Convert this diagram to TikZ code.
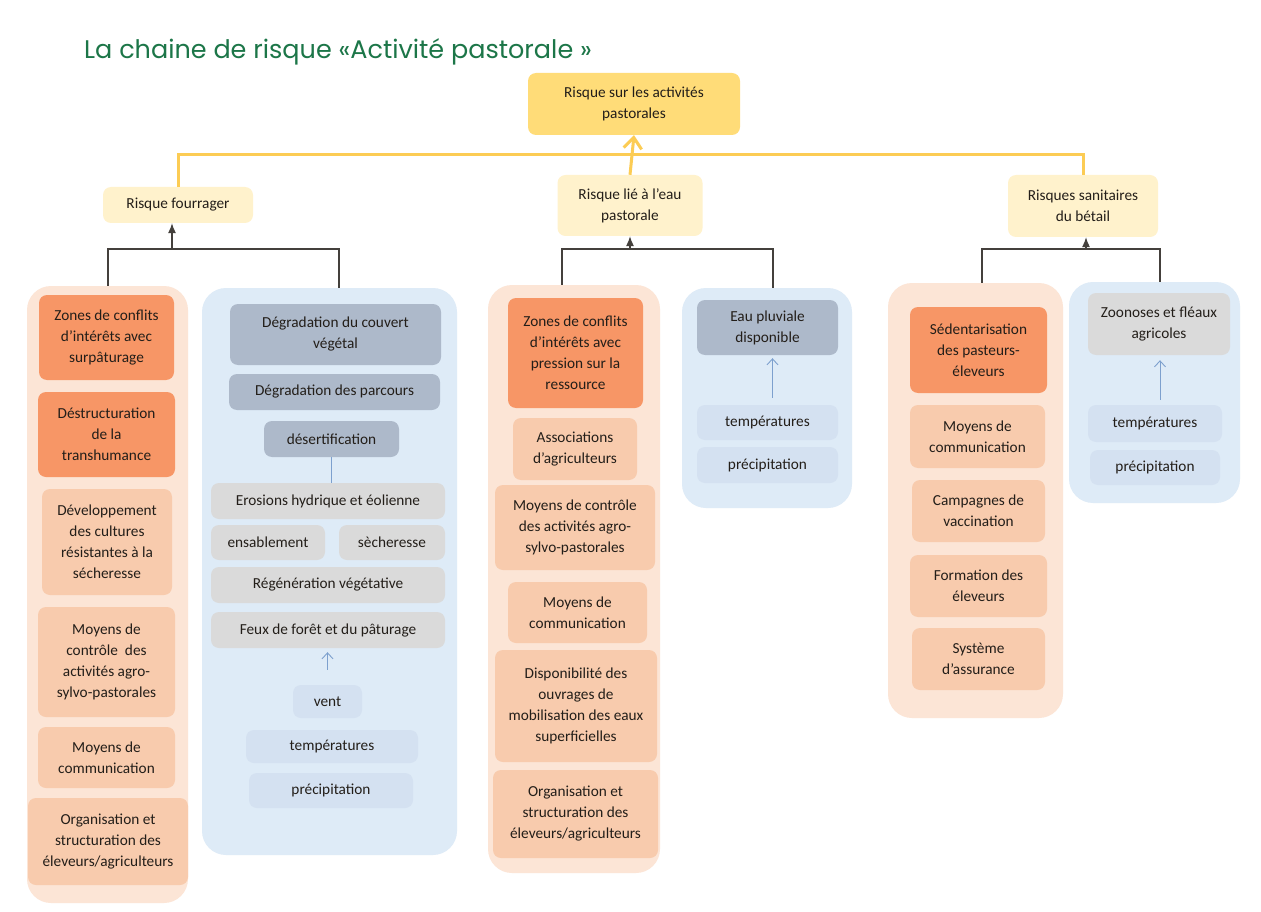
\documentclass[tikz,border=0pt]{standalone}
\usepackage{fontspec}
\setmainfont{Carlito}
\newfontfamily\titlefont{Poppins}
\usetikzlibrary{arrows.meta}

\definecolor{ink}{RGB}{35,30,25}
\definecolor{titlegr}{RGB}{28,118,72}
\definecolor{goalyl}{RGB}{255,220,120}
\definecolor{riskyl}{RGB}{255,242,204}
\definecolor{lineyl}{RGB}{252,204,84}
\definecolor{peachbg}{RGB}{252,229,214}
\definecolor{skybg}{RGB}{222,235,247}
\definecolor{keyor}{RGB}{247,150,102}
\definecolor{itemor}{RGB}{248,203,173}
\definecolor{slategr}{RGB}{173,185,202}
\definecolor{lightgr}{RGB}{218,218,218}
\definecolor{climbl}{RGB}{212,225,241}
\definecolor{arrowbl}{RGB}{125,160,206}

\begin{document}
\begin{tikzpicture}[x=1pt, y=-1pt, font=\fontsize{15.3}{21}\selectfont,
    wh/.style 2 args={minimum width=#1pt, minimum height=#2pt},
    colbox/.style={rounded corners=24pt, inner sep=0pt},
    peach/.style={colbox, fill=peachbg},
    sky/.style={colbox, fill=skybg},
    box/.style={rounded corners=8pt, align=center, inner sep=2pt, text=ink},
    goal/.style={box, fill=goalyl},
    risk/.style={box, fill=riskyl},
    key/.style={box, fill=keyor},
    item/.style={box, fill=itemor},
    slate/.style={box, fill=slategr},
    grey/.style={box, fill=lightgr},
    clim/.style={box, fill=climbl},
    yline/.style={draw=lineyl, line width=3pt},
    tree/.style={draw=ink!85, line width=1.1pt},
    bline/.style={draw=arrowbl, line width=0.9pt}]
  \useasboundingbox[fill=white] (0,0) rectangle (1261,912);

  % title
  \node[anchor=base west, inner sep=0pt, text=titlegr, font=\titlefont\fontsize{25.5}{30}\selectfont] (title) at (84,59) {La chaine de risque «Activité pastorale »};

  % top of the chain
  \node[goal, wh={212}{62}] (top) at (634,104) {Risque sur les activités\\pastorales};
  \node[risk, wh={150}{36}] (rf) at (178,205) {Risque fourrager};
  \node[risk, wh={145}{61}] (re) at (630,205.5) {Risque lié à l’eau\\pastorale};
  \node[risk, wh={150}{62}] (rs) at (1083,206) {Risques sanitaires\\du bétail};
  \coordinate (ybar) at (0,155);
  \draw[yline] (rf.north) |- (rs.north |- ybar) -- (rs.north);
  \draw[yline, -{Straight Barb[length=11pt,width=18pt]}] (re.north) -- (top.south);

  % columns
  \node[peach, wh={161}{617}] (c1) at (107.5,594.5) {};
  \node[sky,   wh={255}{567}] (c2) at (329.5,571.5) {};
  \node[peach, wh={172}{588}] (c3) at (574,579) {};
  \node[sky,   wh={170}{220}] (c4) at (767,398) {};
  \node[peach, wh={175}{435}] (c5) at (975.5,500.5) {};
  \node[sky,   wh={171}{221}] (c6) at (1154.5,392.5) {};

  % brackets
  \coordinate (fb) at (172,249);
  \coordinate (eb) at (630,249);
  \coordinate (sb) at (1086,249);
  \draw[tree] ([xshift=0.5pt]c1.north) |- (fb) -| ([xshift=9.5pt]c2.north);
  \draw[tree, -{Latex[length=10pt,width=8pt]}] (fb) -- (fb |- rf.south);
  \draw[tree] ([xshift=-12pt]c3.north) |- (eb) -| ([xshift=6pt]c4.north);
  \draw[tree, -{Latex[length=10pt,width=8pt]}] (eb) -- (eb |- re.south);
  \draw[tree] ([xshift=6.5pt]c5.north) |- (sb) -| ([xshift=5.5pt]c6.north);
  \draw[tree, -{Latex[length=10pt,width=8pt]}] (sb) -- (sb |- rs.south);

  % risque fourrager
  \node[key,  wh={135}{85}]  (l1) at (106.5,337.5) {Zones de conflits\\d’intérêts avec\\surpâturage};
  \node[key,  wh={137}{85}]  (l2) at (106.5,434.5) {Déstructuration\\de la\\transhumance};
  \node[item, wh={130}{106}] (l3) at (107,542) {Développement\\des cultures\\résistantes à la\\sécheresse};
  \node[item, wh={137}{110}] (l4) at (106.5,662) {Moyens de\\contrôle~ des\\activités agro-\\sylvo-pastorales};
  \node[item, wh={137}{61}]  (l5) at (106.5,757.5) {Moyens de\\communication};
  \node[item, wh={160}{87}]  (l6) at (108,841.5) {Organisation et\\structuration des\\éleveurs/agriculteurs};

  \node[slate, wh={211}{61}] (b1) at (335.5,334.5) {Dégradation du couvert\\végétal};
  \node[slate, wh={211}{36}] (b2) at (334.5,392) {Dégradation des parcours};
  \node[slate, wh={135}{36}] (b3) at (331.5,439) {désertification};
  \node[grey,  wh={234}{36}] (b4) at (328,501) {Erosions hydrique et éolienne};
  \node[grey,  wh={114}{35}] (b5) at (268,542.5) {ensablement};
  \node[grey,  wh={106}{35}] (b6) at (392,542.5) {sècheresse};
  \node[grey,  wh={234}{36}] (b7) at (328,585) {Régénération végétative};
  \node[grey,  wh={234}{36}] (b8) at (328,630) {Feux de forêt et du pâturage};
  \node[clim,  wh={69}{33}]  (b9) at (327.5,701.5) {vent};
  \node[clim,  wh={172}{33}] (b10) at (332,746.5) {températures};
  \node[clim,  wh={164}{35}] (b11) at (331,790.5) {précipitation};
  \draw[bline] (b4.north -| b3.south) -- (b3.south);
  \draw[bline, -{Straight Barb[length=6pt,width=11pt]}, shorten <=15pt, shorten >=4pt] (b9.north) -- (b9.north |- b8.south);

  % risque eau
  \node[key,  wh={135}{110}] (m1) at (575.5,353) {Zones de conflits\\d’intérêts avec\\pression sur la\\ressource};
  \node[item, wh={124}{62}]  (m2) at (575,449) {Associations\\d’agriculteurs};
  \node[item, wh={160}{85}]  (m3) at (575,527.5) {Moyens de contrôle\\des activités agro-\\sylvo-pastorales};
  \node[item, wh={139}{61}]  (m4) at (577.5,612.5) {Moyens de\\communication};
  \node[item, wh={162}{112}] (m5) at (576,706) {Disponibilité des\\ouvrages de\\mobilisation des eaux\\superficielles};
  \node[item, wh={165}{88}]  (m6) at (575.5,814) {Organisation et\\structuration des\\éleveurs/agriculteurs};

  \node[slate, wh={141}{55}] (e1) at (767.5,327.5) {Eau pluviale\\disponible};
  \node[clim,  wh={141}{35}] (e2) at (767.5,422.5) {températures};
  \node[clim,  wh={141}{36}] (e3) at (767.5,465) {précipitation};
  \draw[bline, -{Straight Barb[length=6pt,width=11pt]}, shorten <=7pt, shorten >=3pt] ([xshift=5pt]e2.north) -- ([xshift=5pt]e1.south);

  % risques sanitaires
  \node[key,  wh={137}{86}] (s1) at (978.5,350) {Sédentarisation\\des pasteurs-\\éleveurs};
  \node[item, wh={135}{63}] (s2) at (977.5,436.5) {Moyens de\\communication};
  \node[item, wh={133}{62}] (s3) at (978.5,511) {Campagnes de\\vaccination};
  \node[item, wh={137}{62}] (s4) at (978.5,586) {Formation des\\éleveurs};
  \node[item, wh={133}{62}] (s5) at (978.5,659) {Système\\d’assurance};

  \node[grey, wh={142}{62}] (z1) at (1159,324) {Zoonoses et fléaux\\agricoles};
  \node[clim, wh={134}{37}] (z2) at (1155,423.5) {températures};
  \node[clim, wh={130}{35}] (z3) at (1155,467.5) {précipitation};
  \draw[bline, -{Straight Barb[length=6pt,width=11pt]}, shorten <=5pt, shorten >=5pt] ([xshift=5pt]z2.north) -- ([xshift=5pt]z2.north |- z1.south);
\end{tikzpicture}
\end{document}
